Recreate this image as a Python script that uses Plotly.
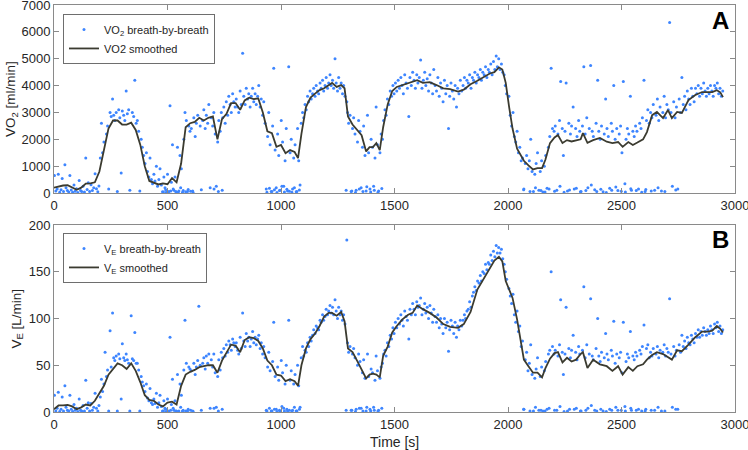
import plotly.graph_objects as go

# ---------------- data ----------------
# breath-by-breath samples (time [s], VO2 [ml/min], VE [L/min])
breath_t = [
    2, 8, 14, 19, 25, 31, 36, 42, 48, 53, 59, 65, 70, 76, 82, 88, 93, 99, 105, 111,
    117, 122, 128, 134, 140, 146, 151, 157, 163, 169, 175, 181, 187, 193, 198,
    204, 209, 214, 220, 225, 231, 236, 241, 247, 252, 258, 263, 268, 274, 279,
    285, 290, 296, 301, 307, 312, 318, 323, 329, 334, 340, 345, 351, 356, 362,
    367, 373, 378, 384, 389, 395,
    401, 407, 412, 418, 423, 429, 434, 440, 445, 451, 456, 462, 467, 473, 478,
    484, 489, 495, 500, 506, 511, 517, 522, 528, 533, 539, 544, 550, 555, 561,
    566, 572, 577, 583, 588, 594, 599,
    605, 611, 616, 622, 627, 633, 638, 644, 649, 655, 660, 666, 671, 677, 682,
    688, 693, 699, 704, 710, 715, 721, 726, 732, 737, 743, 748, 754, 759, 765,
    770, 776, 781, 787, 792, 798,
    803, 809, 814, 820, 825, 831, 836, 842, 847, 853, 858, 864, 869, 875, 880,
    886, 891, 897, 902, 908, 913, 919, 924, 930, 935, 941, 946, 952, 957, 963,
    968, 974, 979, 985, 990, 996, 1001, 1007, 1012, 1018, 1023, 1029, 1034, 1040, 1045,
    1051, 1056, 1062, 1067, 1073, 1078, 1084, 1089, 1095,
    1100, 1106, 1111, 1117, 1122, 1128, 1133, 1139, 1144, 1150, 1155, 1161, 1166, 1172, 1177,
    1183, 1188, 1194, 1199, 1205, 1210, 1216, 1221, 1227, 1232, 1238, 1243, 1249, 1254, 1260,
    1265, 1271, 1276, 1282, 1287, 1290, 1293, 1298,
    1304, 1309, 1315, 1320, 1326, 1331, 1337, 1342, 1348, 1353, 1359, 1364, 1370, 1375, 1381,
    1386, 1392, 1397, 1403, 1408, 1414, 1419, 1425, 1430, 1436, 1441, 1447,
    1452, 1458, 1463, 1469, 1475, 1481, 1487, 1493, 1498, 1504,
    1510, 1516, 1522, 1528, 1533, 1539, 1545, 1551, 1557, 1563,
    1568, 1574, 1580, 1586, 1592, 1598, 1603, 1609, 1615, 1621,
    1627, 1633, 1638, 1644, 1650, 1656, 1662, 1668, 1673, 1679,
    1685, 1691, 1697, 1703, 1708, 1714, 1720, 1726, 1732, 1738,
    1743, 1749, 1755, 1761, 1767, 1773, 1778, 1784, 1790, 1796,
    1802, 1808, 1813, 1819, 1825, 1831, 1837, 1843, 1848, 1854,
    1860, 1866, 1872, 1878, 1883, 1889, 1895, 1901, 1907, 1913,
    1918, 1924, 1930, 1936, 1942, 1948, 1953, 1959, 1965, 1971,
    1977, 1983, 1988, 1994,
    2004, 2010, 2016, 2022, 2028, 2034, 2040, 2046, 2052, 2058,
    2064, 2070, 2076, 2082, 2088, 2094, 2100, 2106, 2112, 2118,
    2124, 2130, 2136, 2142, 2148, 2154, 2160, 2166, 2172, 2178,
    2184, 2190, 2196,
    2203, 2208, 2215, 2220, 2227, 2232, 2239, 2244, 2251, 2256,
    2262, 2268, 2275, 2280, 2287, 2292, 2298, 2304, 2311, 2316,
    2322, 2328, 2334, 2340, 2347, 2352, 2358, 2364, 2371, 2376,
    2382, 2388, 2395, 2400, 2406, 2412, 2419, 2424, 2430, 2436,
    2442, 2448, 2455, 2460, 2466, 2472, 2479, 2484, 2490, 2496,
    2502, 2508, 2515, 2520, 2526, 2532, 2539, 2544, 2550, 2556,
    2562, 2568, 2575, 2580, 2586, 2592, 2599, 2604, 2610, 2616,
    2622, 2628, 2634, 2640, 2646, 2652, 2658, 2664, 2670, 2676,
    2682, 2688, 2694, 2700, 2706, 2712, 2718, 2724, 2730, 2736,
    2742, 2748, 2754, 2760, 2766, 2772, 2778, 2784, 2790, 2796,
    2802, 2808, 2814, 2820, 2826, 2832, 2838, 2844, 2850, 2856,
    2862, 2868, 2874, 2880, 2886, 2892, 2898, 2904, 2910, 2916,
    2922, 2928, 2934, 2940, 2946,
    2069, 2097, 2121, 2145, 2163, 2181, 2205, 2229, 2247, 2271,
    2301, 2319, 2343, 2367, 2391, 2409, 2433, 2457, 2475, 2499,
    2517, 2541, 2565, 2589, 2607, 2631, 2661, 2691, 2739,
    482, 492, 503, 514, 525, 536, 547, 558, 569, 580, 591, 602, 613,
    705, 724, 741,
    938, 949, 960, 971, 982, 993, 1004, 1015, 1026, 1037, 1048, 1059, 1070, 1081,
    1312, 1328, 1345, 1361, 1378, 1395, 1411, 1427, 1444,
]

breath_vo2 = [
    650, 80, 150, 700, 30, 120, 540, 60, 1050, 200, 90, 40, 650, 110, 30, 300, 70, 160, 20, 470,
    90, 60, 250, 40, 1300, 130, 380, 60, 310, 90, 200, 720, 160, 50, 260,
    1300, 2600, 1500, 1900, 5100, 2200, 2500, 150, 3000, 2850, 3500, 2900, 2700, 3000, 60,
    3100, 2800, 750, 3050, 2900, 2700, 3800, 2950, 3100, 100, 5200, 3000, 2850, 4200, 2600,
    2700, 2300, 80, 2000, 1700, 1400,
    1100, 1500, 800, 600, 1300, 500, 350, 700, 450, 1000, 250, 500, 900, 300, 50,
    600, 200, 30, 700, 60, 3250, 400, 1800, 100, 600, 40, 1700, 80, 1400, 900,
    30, 2000, 3000, 2700, 60, 2500, 2300,
    2400, 80, 2800, 2100, 2600, 2900, 5200, 2500, 120, 2700, 3100, 2400, 2900, 2600, 3300,
    200, 2800, 2500, 3000, 2200, 250, 1900, 2700, 2300, 3000, 2800, 3200, 2600, 3400, 2900,
    3600, 3300, 3000, 3700, 3400, 3200,
    3500, 3200, 3000, 3800, 3300, 5200, 3600, 3300, 3900, 3500, 3700, 3200, 3600, 3900, 3400,
    3700, 3300, 3600, 4000, 3200, 3500, 2900, 3400, 2600, 150, 2100, 3000, 1800, 60, 2500,
    4650, 1600, 200, 2200, 1400, 100, 2700, 1900, 250, 1200, 2400, 80, 4700, 1500, 2000,
    150, 1300, 1800, 50, 2400, 1200, 300, 2600, 3000,
    2800, 3300, 3100, 3600, 3400, 3800, 3500, 3700, 3900, 3600, 4000, 3800, 3700, 4100, 3900,
    4200, 3800, 4000, 4300, 3900, 4100, 4400, 4000, 4200, 3900, 5000, 4100, 3800, 4300, 3900,
    4100, 3700, 4000, 3600, 100, 3400, 3000, 2600,
    2900, 60, 2400, 2800, 2200, 100, 1900, 2700, 2300, 200, 1700, 2500, 1400, 80, 2900,
    1500, 150, 2000, 1700, 250, 1300, 3200, 1800, 80, 1500, 2200, 2000,
    2700, 3100, 2900, 3500, 3300, 3800, 3600, 4000, 3700, 4100,
    3800, 4200, 3900, 4300, 4000, 3700, 4400, 4100, 3900, 2850,
    4300, 4000, 4500, 4200, 3900, 4400, 4100, 4300, 4950, 3900,
    4200, 4500, 4000, 4250, 3800, 4400, 4100, 3700, 4600, 4000,
    3800, 4300, 3600, 4100, 3900, 3400, 4200, 3700, 4000, 2400,
    3600, 4100, 3800, 3500, 4000, 3200, 3900, 3700, 4200, 3800,
    4000, 4300, 3900, 4200, 4100, 4400, 3900, 4300, 4200, 4500,
    4100, 4400, 4300, 4600, 4200, 4500, 4400, 4700, 4300, 4600,
    4500, 4800, 4400, 4900, 4600, 5100, 4700, 5000, 4600, 4800,
    4500, 4400, 4000, 3700,
    3600, 2900, 2500, 3000, 2100, 1900, 2300, 1500, 1700, 1200,
    1300, 150, 1100, 1400, 900, 1200, 2000, 800, 60, 700,
    1100, 1500, 100, 800, 1200, 40, 1000, 1400, 180, 1700,
    2100, 4650, 2400,
    2300, 2500, 100, 2200, 2700, 4150, 2400, 1400, 2300, 4100,
    80, 2600, 2200, 2500, 3200, 150, 2400, 2100, 2700, 2300,
    60, 2500, 4700, 2200, 2800, 200, 2400, 4750, 2300, 2100,
    120, 2600, 4200, 2300, 2000, 2500, 50, 2200, 3500, 2400,
    2100, 180, 2600, 2300, 4000, 2000, 2400, 90, 2200, 2500,
    1500, 4150, 350, 2000, 2400, 2200, 3600, 100, 2300, 2100,
    2500, 2300, 150, 2600, 2400, 2800, 4200, 60, 2700, 3100,
    2600, 3000, 2800, 3300, 100, 2900, 3500, 2700, 3200, 80,
    3000, 3600, 2800, 3300, 3100, 6350, 3000, 250, 3400, 2800,
    3200, 150, 3500, 3000, 4300, 3300, 3600, 3100, 3800, 3500,
    3300, 3900, 3600, 3400, 3900, 3700, 4000, 3600, 3900, 3700,
    4100, 3800, 3600, 3900, 3700, 4000, 3800, 3600, 4000, 3900,
    4100, 3700, 3900, 3600, 3800,
    120, 60, 200, 90, 40, 150, 70, 250, 30, 110,
    180, 50, 90, 300, 60, 140, 20, 100, 220, 70,
    40, 160, 90, 30, 130, 80, 200, 60, 110,
    40, 120, 20, 80, 150, 60, 30, 200, 90, 50, 130, 70, 20,
    150, 60, 100,
    30, 180, 60, 120, 20, 90, 250, 40, 140, 70, 30, 200, 60, 110,
    80, 20, 150, 60, 230, 40, 100, 30, 170,
]

breath_ve = [
    18, 1, 4, 21, 0.5, 3, 16, 1, 28, 5, 2, 1, 18, 3, 0.5, 8, 2, 4, 0.5, 14,
    2, 1, 7, 1, 34, 4, 10, 1, 9, 2, 5, 20, 4, 1, 7,
    16, 35, 22, 30, 64, 38, 45, 1, 87, 48, 106, 58, 55, 60, 1,
    62, 57, 14, 73, 58, 55, 62, 56, 52, 1, 103, 57, 55, 85, 52,
    52, 45, 1, 38, 32, 28,
    22, 30, 15, 12, 25, 10, 8, 14, 9, 20, 5, 10, 18, 6, 1,
    12, 4, 0.5, 14, 1, 80, 8, 35, 2, 12, 1, 40, 1, 30, 18,
    1, 45, 98, 52, 1, 48, 46,
    44, 1, 52, 40, 48, 55, 113, 50, 2, 52, 58, 46, 60, 52, 62,
    4, 56, 48, 62, 42, 5, 38, 56, 45, 64, 58, 68, 60, 72, 64,
    76, 72, 66, 78, 74, 70,
    74, 66, 62, 80, 68, 106, 76, 70, 84, 76, 80, 70, 78, 86, 74,
    80, 72, 78, 82, 68, 74, 62, 70, 58, 2, 48, 64, 44, 1, 54,
    96, 38, 3, 48, 34, 1, 55, 42, 4, 30, 50, 1, 98, 34, 44,
    2, 30, 40, 1, 50, 28, 5, 58, 70,
    60, 66, 64, 74, 70, 80, 76, 82, 88, 84, 92, 90, 88, 98, 96,
    104, 98, 102, 110, 104, 108, 114, 106, 112, 104, 120, 108, 100, 112, 104,
    108, 98, 104, 94, 2, 184, 74, 64,
    70, 2, 62, 68, 58, 3, 50, 62, 54, 4, 42, 56, 36, 1, 62,
    38, 3, 46, 42, 5, 34, 60, 44, 2, 36, 48, 52,
    62, 66, 60, 74, 70, 82, 78, 90, 84, 96,
    90, 100, 94, 104, 98, 92, 108, 102, 98, 78,
    110, 104, 116, 110, 104, 118, 112, 114, 122, 104,
    110, 116, 106, 112, 100, 114, 106, 96, 110, 102,
    96, 104, 90, 100, 94, 84, 100, 90, 96, 65,
    88, 98, 92, 84, 96, 80, 92, 88, 98, 92,
    98, 104, 100, 108, 110, 118, 112, 124, 128, 134,
    130, 140, 138, 146, 140, 150, 148, 158, 152, 160,
    158, 168, 162, 172, 166, 178, 170, 176, 170, 174,
    164, 158, 150, 142,
    132, 124, 116, 126, 104, 96, 108, 86, 92, 70,
    76, 3, 56, 64, 44, 52, 72, 40, 1, 36,
    46, 58, 2, 38, 48, 1, 44, 54, 3, 62,
    66, 150, 70,
    62, 66, 2, 60, 72, 120, 64, 40, 62, 112,
    1, 68, 58, 66, 82, 3, 64, 56, 70, 62,
    1, 66, 134, 58, 72, 4, 62, 121, 60, 56,
    2, 68, 100, 60, 54, 64, 1, 58, 84, 62,
    56, 3, 66, 60, 97, 52, 62, 2, 58, 64,
    42, 96, 6, 54, 62, 58, 86, 2, 60, 56,
    64, 60, 3, 66, 62, 70, 93, 1, 68, 72,
    58, 64, 60, 68, 2, 62, 70, 58, 66, 1,
    64, 72, 60, 68, 64, 121, 62, 5, 70, 60,
    66, 3, 72, 64, 82, 70, 76, 68, 80, 74,
    72, 82, 78, 74, 84, 80, 88, 80, 86, 82,
    90, 86, 82, 88, 84, 92, 88, 84, 94, 90,
    96, 86, 92, 84, 88,
    3, 1, 5, 2, 1, 4, 2, 6, 0.5, 3,
    4, 1, 2, 7, 1, 3, 0.5, 2, 5, 2,
    1, 4, 2, 1, 3, 2, 5, 1, 3,
    1, 3, 0.5, 2, 4, 1, 0.5, 5, 2, 1, 3, 2, 0.5,
    4, 1, 3,
    1, 4, 1, 3, 0.5, 2, 6, 1, 3, 2, 1, 5, 1, 3,
    2, 0.5, 4, 1, 5, 1, 2, 1, 4,
]

# smoothed curves
smooth_t = [
    0, 20, 40, 60, 80, 100, 120, 140, 160, 180,
    200, 220, 240, 260, 280, 300, 320, 340, 360, 380,
    400, 420, 440, 460, 480, 500, 520, 540, 560, 580,
    600, 620, 640, 660, 680, 700, 720, 740, 760, 780,
    800, 820, 840, 860, 880, 900, 920, 940, 960, 980,
    1000, 1020, 1040, 1060, 1075, 1090, 1110, 1130, 1150, 1170,
    1190, 1210, 1225, 1245, 1265, 1280, 1295, 1315, 1335, 1355,
    1375, 1390, 1405, 1420, 1435, 1450, 1470, 1490, 1510, 1535,
    1560, 1580, 1600, 1625, 1655, 1685, 1715, 1745, 1780, 1805,
    1835, 1865, 1890, 1920, 1940, 1960, 1975, 1990, 2005, 2020,
    2040, 2055, 2070, 2090, 2110, 2130, 2150, 2165, 2185, 2205,
    2220, 2240, 2260, 2280, 2300, 2320, 2330, 2350, 2375, 2405,
    2435, 2460, 2485, 2505, 2530, 2550, 2570, 2595, 2612, 2635,
    2656, 2683, 2705, 2722, 2745, 2766, 2795, 2825, 2855, 2880,
    2900, 2920, 2935, 2947,
]

vo2_smooth = [
    200, 250, 280, 290, 190, 120, 200, 350, 360, 400,
    800, 1600, 2400, 2700, 2700, 2550, 2550, 2620, 2350, 1800,
    1000, 450, 380, 320, 360, 330, 560, 400, 1100, 2450,
    2600, 2650, 2800, 2700, 2800, 2850, 2000, 2750, 2950, 3350,
    3350, 3100, 3450, 3550, 3500, 3520, 3000, 2300, 2230, 1720,
    1790, 1480, 1600, 1530, 1300, 2200, 3200, 3550, 3700, 3830,
    3900, 4000, 4100, 3950, 4020, 3900, 2850, 2550, 2350, 2150,
    1550, 1710, 1710, 1860, 1600, 2450, 3300, 3800, 3950, 4020,
    4100, 4150, 4200, 4100, 4130, 4020, 3900, 3870, 3780, 3850,
    4050, 4180, 4300, 4450, 4500, 4680, 4600, 4100, 3200, 2400,
    1650, 1400, 1200, 1030, 880, 930, 930, 1250, 1860, 2070,
    2160, 1860, 1970, 1920, 1950, 2000, 2230, 1870, 1970, 2050,
    1910, 1860, 1900, 1720, 1900, 1790, 1880, 2000, 2270, 2900,
    3020, 2790, 3090, 2790, 3020, 2980, 3460, 3650, 3760, 3760,
    3760, 3830, 3750, 3570,
]

ve_smooth = [
    3, 7, 7, 7.5, 6, 3, 5, 8, 7, 12,
    20, 28, 40, 46, 52, 50, 46, 52, 44, 32,
    18, 13, 12, 8, 6, 10, 11, 8, 28, 40,
    43, 45, 48, 49, 50, 50, 42, 55, 64, 72,
    71, 64, 77, 80, 79, 76, 68, 55, 50, 40,
    39, 33, 35, 33, 28, 50, 68, 78, 84, 92,
    102, 106, 106, 103, 107, 97, 68, 64, 55, 45,
    36, 40, 41, 40, 37, 60, 70, 85, 92, 99,
    104, 106, 114, 110, 106, 101, 94, 91, 90, 94,
    107, 131, 141, 154, 162, 166, 161, 140, 130, 122,
    99, 78, 56, 49, 42, 42, 37, 47, 57, 63,
    64, 53, 58, 54, 56, 62, 64, 47, 56, 51,
    49, 44, 49, 40, 48, 44, 49, 51, 56, 61,
    64, 62, 59, 56, 66, 65, 72, 80, 86, 86,
    87, 92, 89, 85,
]

x_ticks = [0, 500, 1000, 1500, 2000, 2500, 3000]
vo2_ticks = [0, 1000, 2000, 3000, 4000, 5000, 6000, 7000]
ve_ticks = [0, 50, 100, 150, 200]

# ---------------- styling ----------------
BLUE = "#3d85ff"
DARK = "#3b3b30"
FRAME = "#8a8a8a"
TXT = "#262626"
FONT = "Liberation Sans, Arial, sans-serif"

fig = go.Figure()
fig.add_trace(go.Scatter(
    x=breath_t, y=breath_vo2, mode="markers",
    marker=dict(size=3, color=BLUE, line=dict(width=0)),
    name="VO<sub>2</sub> breath-by-breath", xaxis="x", yaxis="y", legend="legend"))
fig.add_trace(go.Scatter(
    x=smooth_t, y=vo2_smooth, mode="lines",
    line=dict(color=DARK, width=1.8),
    name="VO2 smoothed", xaxis="x", yaxis="y", legend="legend"))
fig.add_trace(go.Scatter(
    x=breath_t, y=breath_ve, mode="markers",
    marker=dict(size=3, color=BLUE, line=dict(width=0)),
    name="V<sub>E</sub> breath-by-breath", xaxis="x2", yaxis="y2", legend="legend2"))
fig.add_trace(go.Scatter(
    x=smooth_t, y=ve_smooth, mode="lines",
    line=dict(color=DARK, width=1.8),
    name="V<sub>E</sub> smoothed", xaxis="x2", yaxis="y2", legend="legend2"))

axis_common = dict(
    showline=True, linecolor=FRAME, linewidth=1, mirror="ticks",
    ticks="inside", ticklen=5, tickcolor=FRAME, tickwidth=1,
    showgrid=False, zeroline=False, automargin=False,
    ticklabeloverflow="allow",
    tickfont=dict(family=FONT, size=13, color=TXT),
)

legend_common = dict(
    bgcolor="white", bordercolor="#6e6e6e", borderwidth=1,
    font=dict(family=FONT, size=11, color=TXT),
    xanchor="left", yanchor="top", tracegroupgap=0,
)

fig.update_layout(
    width=748, height=450,
    margin=dict(l=54, r=13, t=5, b=38, autoexpand=False),
    paper_bgcolor="white", plot_bgcolor="white",
    font=dict(family=FONT, color=TXT),
    xaxis=dict(domain=[0, 1], anchor="y", range=[0, 3000], tickvals=x_ticks, **axis_common),
    yaxis=dict(domain=[0.538, 1], anchor="x", range=[0, 7000], tickvals=vo2_ticks, **axis_common),
    xaxis2=dict(domain=[0, 1], anchor="y2", range=[0, 3000], tickvals=x_ticks, **axis_common),
    yaxis2=dict(domain=[0, 0.4595], anchor="x2", range=[0, 200], tickvals=ve_ticks, **axis_common),
    legend=dict(x=0.0132, y=0.978, **legend_common),
    legend2=dict(x=0.0132, y=0.44, **legend_common),
    annotations=[
        dict(text="VO<sub>2</sub> [ml/min]", xref="paper", yref="y domain", x=-0.0631, y=0.5,
             textangle=-90, showarrow=False, xanchor="center", yanchor="middle",
             font=dict(family=FONT, size=13.5, color=TXT)),
        dict(text="V<sub>E</sub> [L/min]", xref="paper", yref="y2 domain", x=-0.0543, y=0.5,
             textangle=-90, showarrow=False, xanchor="center", yanchor="middle",
             font=dict(family=FONT, size=13.5, color=TXT)),
        dict(text="Time [s]", xref="paper", yref="paper", x=0.5, y=-0.0737,
             showarrow=False, xanchor="center", yanchor="middle",
             font=dict(family=FONT, size=14, color=TXT)),
        dict(text="<b>A</b>", xref="x domain", yref="y domain", x=0.9794, y=0.9176,
             showarrow=False, xanchor="center", yanchor="middle",
             font=dict(family=FONT, size=24, color="black")),
        dict(text="<b>B</b>", xref="x2 domain", yref="y2 domain", x=0.9794, y=0.925,
             showarrow=False, xanchor="center", yanchor="middle",
             font=dict(family=FONT, size=24, color="black")),
    ],
)

fig.write_html(
    "out.html",
    config=dict(displayModeBar=False),
    post_script="document.body.style.margin='0px';document.body.style.overflow='hidden';",
)
